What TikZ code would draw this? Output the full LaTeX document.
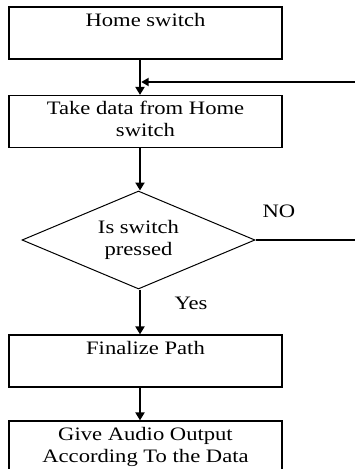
\documentclass[tikz,border=0pt]{standalone}
\usepackage{fontspec}
\setmainfont{Liberation Serif}[FakeStretch=1.19]
\usetikzlibrary{shapes.geometric,arrows.meta}

\tikzset{
  stepbox/.style={draw, line width=1.2pt, minimum width=273pt, minimum height=52pt,
    inner sep=0pt, align=center, font=\fontsize{19}{22}\selectfont},
  decision/.style={draw, diamond, line width=1pt, minimum width=233pt, minimum height=98pt,
    shape aspect=2.38, inner sep=0pt, align=center, font=\fontsize{19}{22}\selectfont},
  flowlabel/.style={inner sep=0pt, font=\fontsize{19}{22}\selectfont},
  flow/.style={line width=2.3pt, -{Triangle[length=8pt,width=9pt]}},
  back/.style={line width=2pt, -{Triangle[length=7.5pt,width=8pt]}},
  plain/.style={line width=1.2pt}
}

\begin{document}
\begin{tikzpicture}[x=1pt, y=-1pt]
  \clip (0,0) rectangle (355,469);

  % process steps
  \node[stepbox] (b1) at (145.5,33)  {\strut Home switch\\\strut};
  \node[stepbox] (b2) at (145.5,121.5) {\strut Take data from Home\\\strut switch};
  \node[decision] (dec) at (138.5,240) {\strut Is switch\\\strut pressed};
  \node[stepbox] (b3) at (145.5,361) {\strut Finalize Path\\\strut};
  \node[stepbox] (b4) at (145.5,447) {\strut Give Audio Output\\\strut According To the Data};

  % branch labels
  \node[flowlabel] (no)  at (279,211) {NO};
  \node[flowlabel] (yes) at (191,303) {Yes};

  % loop-back junction and open ends
  \coordinate (j)   at (141.2,82);
  \coordinate (fbR) at (362,82);
  \coordinate (noR) at (362,240);

  % connectors
  \draw[flow] ([xshift=-5.5pt]b1.south) -- ([xshift=-5.5pt]b2.north);
  \draw[back] (fbR) -- (j);
  \draw[flow] ([xshift=-5.5pt]b2.south) -- ([xshift=-5.5pt]b2.south |- dec.north);
  \draw[plain] (dec.east) -- (noR);
  \draw[flow] ([xshift=-5.5pt]b3.north |- dec.south) -- ([xshift=-5.5pt]b3.north);
  \draw[flow] ([xshift=-5.5pt]b3.south) -- ([xshift=-5.5pt]b4.north);
\end{tikzpicture}
\end{document}
